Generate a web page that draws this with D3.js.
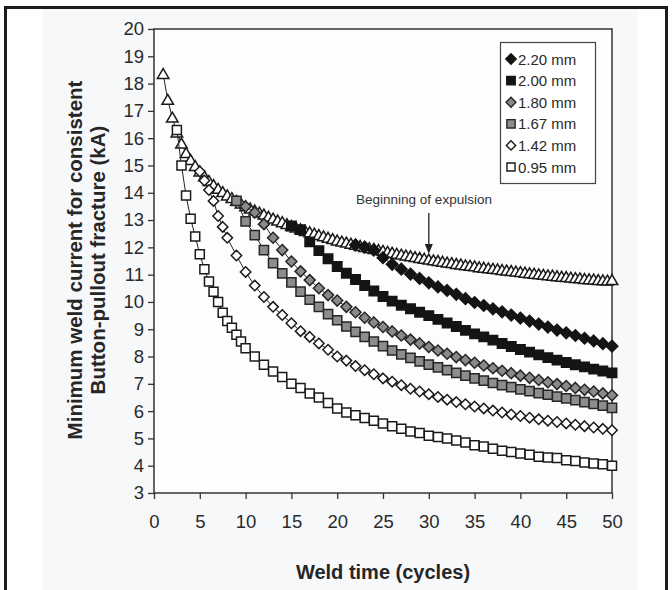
<!DOCTYPE html>
<html>
<head>
<meta charset="utf-8">
<script src="https://cdn.jsdelivr.net/npm/d3@7"></script>
<style>
  body { margin: 0; background: #ffffff; }
  svg { display: block; font-family: "Liberation Sans", Arial, sans-serif; }
</style>
</head>
<body>
<div id="chart"></div>
<script>
// tick labels
var xTicks = [0, 5, 10, 15, 20, 25, 30, 35, 40, 45, 50];
var yTicks = [3, 4, 5, 6, 7, 8, 9, 10, 11, 12, 13, 14, 15, 16, 17, 18, 19, 20];

// legend categories
var seriesNames = ["2.20 mm", "2.00 mm", "1.80 mm", "1.67 mm", "1.42 mm", "0.95 mm"];

// expulsion boundary (open triangles)
var cycExp = [1, 1.5, 2, 2.5, 3, 3.5, 4, 4.5, 5, 5.5, 6, 6.5, 7, 7.5, 8, 8.5, 9, 9.5, 10, 10.5,
    11, 11.5, 12, 12.5, 13, 13.5, 14, 14.5, 15, 15.5, 16, 16.5, 17, 17.5, 18, 18.5, 19, 19.5, 20, 20.5,
    21, 21.5, 22, 22.5, 23, 23.5, 24, 24.5, 25, 25.5, 26, 26.5, 27, 27.5, 28, 28.5, 29, 29.5, 30, 30.5,
    31, 31.5, 32, 32.5, 33, 33.5, 34, 34.5, 35, 35.5, 36, 36.5, 37, 37.5, 38, 38.5, 39, 39.5, 40, 40.5,
    41, 41.5, 42, 42.5, 43, 43.5, 44, 44.5, 45, 45.5, 46, 46.5, 47, 47.5, 48, 48.5, 49, 49.5, 50];
var curExp = [18.35, 17.4, 16.75, 16.2, 15.8, 15.45, 15.2, 14.98, 14.78, 14.6, 14.43, 14.28, 14.14, 14.02, 13.9, 13.8, 13.7, 13.6, 13.5, 13.42,
    13.35, 13.27, 13.2, 13.12, 13.05, 12.98, 12.92, 12.85, 12.78, 12.72, 12.66, 12.6, 12.55, 12.5, 12.45, 12.4, 12.35, 12.3, 12.25, 12.21,
    12.17, 12.13, 12.09, 12.05, 12.01, 11.97, 11.94, 11.9, 11.87, 11.83, 11.8, 11.76, 11.73, 11.7, 11.67, 11.64, 11.61, 11.58, 11.55, 11.52,
    11.5, 11.47, 11.44, 11.42, 11.39, 11.37, 11.34, 11.32, 11.3, 11.27, 11.25, 11.23, 11.21, 11.19, 11.17, 11.15, 11.13, 11.11, 11.09, 11.07,
    11.05, 11.03, 11.01, 10.99, 10.97, 10.96, 10.94, 10.92, 10.91, 10.89, 10.87, 10.86, 10.84, 10.83, 10.82, 10.8, 10.79, 10.78, 10.8];

var cyc220 = [22, 23, 24, 25, 26, 27, 28, 29, 30, 31, 32, 33, 34, 35, 36, 37, 38, 39, 40, 41, 42, 43, 44, 45, 46, 47, 48, 49, 50];
var cur220 = [12.09, 12.01, 11.9, 11.62, 11.38, 11.2, 11.02, 10.86, 10.7, 10.55, 10.42, 10.28, 10.12, 9.98, 9.87, 9.75, 9.64, 9.52, 9.41,
    9.3, 9.19, 9.08, 8.97, 8.87, 8.77, 8.67, 8.57, 8.47, 8.38];

var cyc200 = [15, 16, 17, 18, 19, 20, 21, 22, 23, 24, 25, 26, 27, 28, 29, 30, 31, 32, 33, 34, 35, 36, 37, 38, 39, 40,
    41, 42, 43, 44, 45, 46, 47, 48, 49, 50];
var cur200 = [12.78, 12.65, 12.2, 11.88, 11.58, 11.3, 11.05, 10.82, 10.6, 10.4, 10.2, 10.03, 9.88, 9.75, 9.62, 9.5, 9.36, 9.23, 9.1, 8.96,
    8.83, 8.72, 8.6, 8.48, 8.37, 8.26, 8.16, 8.06, 7.96, 7.87, 7.78, 7.7, 7.62, 7.54, 7.47, 7.4];

var cyc180 = [10, 11, 12, 13, 14, 15, 16, 17, 18, 19, 20, 21, 22, 23, 24, 25, 26, 27, 28, 29, 30, 31, 32, 33, 34, 35, 36, 37, 38, 39, 40,
    41, 42, 43, 44, 45, 46, 47, 48, 49, 50];
var cur180 = [13.5, 13.28, 12.85, 12.35, 11.9, 11.48, 11.12, 10.8, 10.5, 10.25, 10.05, 9.82, 9.62, 9.42, 9.25, 9.08, 8.92, 8.77, 8.62, 8.48,
    8.35, 8.22, 8.1, 7.98, 7.87, 7.77, 7.67, 7.57, 7.48, 7.39, 7.3, 7.22, 7.14, 7.06, 6.99, 6.92, 6.85, 6.78, 6.72, 6.65, 6.58];

var cyc167 = [9, 10, 11, 12, 13, 14, 15, 16, 17, 18, 19, 20, 21, 22, 23, 24, 25, 26, 27, 28, 29, 30, 31, 32, 33, 34, 35, 36, 37, 38, 39, 40,
    41, 42, 43, 44, 45, 46, 47, 48, 49, 50];
var cur167 = [13.7, 12.95, 12.45, 11.9, 11.42, 11.05, 10.72, 10.38, 10.08, 9.82, 9.55, 9.33, 9.1, 8.9, 8.72, 8.55, 8.38, 8.22, 8.08, 7.95,
    7.82, 7.7, 7.6, 7.5, 7.4, 7.3, 7.2, 7.12, 7.03, 6.95, 6.88, 6.8, 6.73, 6.66, 6.6, 6.53, 6.47, 6.4, 6.33, 6.26, 6.2, 6.12];

var cyc142 = [5, 5.5, 6, 6.5, 7, 7.5, 8, 9, 10, 11, 12, 13, 14, 15, 16, 17, 18, 19, 20, 21, 22, 23, 24, 25, 26, 27, 28, 29, 30,
    31, 32, 33, 34, 35, 36, 37, 38, 39, 40, 41, 42, 43, 44, 45, 46, 47, 48, 49, 50];
var cur142 = [14.78, 14.45, 14.1, 13.7, 13.15, 12.75, 12.35, 11.7, 11.1, 10.6, 10.18, 9.82, 9.52, 9.22, 8.93, 8.72, 8.48, 8.25, 8.0,
    7.85, 7.65, 7.5, 7.35, 7.2, 7.08, 6.95, 6.82, 6.72, 6.62, 6.52, 6.42, 6.33, 6.25, 6.17, 6.1, 6.02, 5.95, 5.88, 5.82, 5.76, 5.7,
    5.65, 5.6, 5.55, 5.5, 5.45, 5.4, 5.35, 5.3];

var cyc095 = [2.5, 3, 3.5, 4, 4.5, 5, 5.5, 6, 6.5, 7, 7.5, 8, 8.5, 9, 9.5, 10, 11, 12, 13, 14, 15, 16, 17, 18, 19, 20,
    21, 22, 23, 24, 25, 26, 27, 28, 29, 30, 31, 32, 33, 34, 35, 36, 37, 38, 39, 40, 41, 42, 43, 44, 45, 46, 47, 48, 49, 50];
var cur095 = [16.3, 15.0, 13.9, 13.05, 12.4, 11.75, 11.2, 10.75, 10.37, 10.0, 9.6, 9.3, 9.05, 8.8, 8.55, 8.3, 8.0, 7.7, 7.45, 7.25,
    7.0, 6.85, 6.65, 6.5, 6.3, 6.1, 5.95, 5.85, 5.75, 5.65, 5.55, 5.45, 5.35, 5.25, 5.2, 5.1, 5.05, 5.0, 4.92, 4.85, 4.75, 4.7,
    4.62, 4.55, 4.5, 4.45, 4.4, 4.33, 4.3, 4.28, 4.2, 4.17, 4.12, 4.08, 4.05, 4.0];

// marker styles per series (same order as seriesNames)
var markerStyle = [
    {shape: "diamond", fill: "#141414", stroke: "#141414", r: 5.8},
    {shape: "square", fill: "#141414", stroke: "#141414", r: 4.7},
    {shape: "diamond", fill: "#8a8a8a", stroke: "#262626", r: 5.5},
    {shape: "square", fill: "#8d8d8d", stroke: "#262626", r: 4.6},
    {shape: "diamond", fill: "#ffffff", stroke: "#1a1a1a", r: 5.2},
    {shape: "square", fill: "#ffffff", stroke: "#1a1a1a", r: 4.5}
];

var series = [
    {cyc: cyc220, cur: cur220},
    {cyc: cyc200, cur: cur200},
    {cyc: cyc180, cur: cur180},
    {cyc: cyc167, cur: cur167},
    {cyc: cyc142, cur: cur142},
    {cyc: cyc095, cur: cur095}
];

var W = 672, H = 590;
var margin = {top: 29, right: 60, bottom: 97, left: 154};
var width = W - margin.left - margin.right;
var height = H - margin.top - margin.bottom;

var svg = d3.select("#chart").append("svg")
    .attr("width", W)
    .attr("height", H);

// faint page panel and outer frame
svg.append("rect")
    .attr("x", 43).attr("y", 9)
    .attr("width", 595).attr("height", H)
    .attr("fill", "#f7f8fa");
svg.append("path")
    .attr("d", "M5.5," + H + " V7.5 H666.5 V" + H)
    .attr("fill", "none")
    .attr("stroke", "#1c1c1c")
    .attr("stroke-width", 3);

var x = d3.scaleLinear().domain([0, 50]).range([margin.left, margin.left + width]);
var y = d3.scaleLinear().domain([3, 20]).range([margin.top + height, margin.top]);

svg.append("rect")
    .attr("x", x(0)).attr("y", y(20))
    .attr("width", x(50) - x(0)).attr("height", y(3) - y(20))
    .attr("fill", "#fdfdfe");

// axes
var xAxis = svg.append("g")
    .attr("transform", "translate(0," + y(3) + ")")
    .call(d3.axisBottom(x).tickValues(xTicks).tickSize(6).tickPadding(16).tickFormat(d3.format("d")));
var yAxis = svg.append("g")
    .attr("transform", "translate(" + x(0) + ",0)")
    .call(d3.axisLeft(y).tickValues(yTicks).tickSize(6).tickPadding(4).tickFormat(d3.format("d")));

[xAxis, yAxis].forEach(function(a) {
    a.select(".domain").remove();
    a.selectAll("line").attr("stroke", "#333").attr("stroke-width", 1.3);
    a.selectAll("text")
        .attr("fill", "#2a2a2a")
        .style("font-size", "18.5px");
});

// plot frame
svg.append("rect")
    .attr("x", x(0)).attr("y", y(20))
    .attr("width", x(50) - x(0)).attr("height", y(3) - y(20))
    .attr("fill", "none")
    .attr("stroke", "#333")
    .attr("stroke-width", 1.5);

// axis titles
svg.append("text")
    .attr("x", (x(0) + x(50)) / 2)
    .attr("y", 579)
    .attr("text-anchor", "middle")
    .style("font-size", "20px")
    .style("font-weight", "bold")
    .attr("fill", "#262626")
    .text("Weld time (cycles)");

var yTitle = ["Minimum weld current for consistent", "Button-pullout fracture (kA)"];
yTitle.forEach(function(t, i) {
    svg.append("text")
        .attr("transform", "translate(" + (74 + i * 23) + "," + 260 + ") rotate(-90)")
        .attr("text-anchor", "middle")
        .attr("dominant-baseline", "central")
        .style("font-size", "20.5px")
        .style("font-weight", "bold")
        .attr("fill", "#262626")
        .text(t);
});

function markerPath(shape, r) {
    if (shape === "diamond") {
        return "M0," + (-r) + "L" + r + ",0L0," + r + "L" + (-r) + ",0Z";
    }
    if (shape === "triangle") {
        return "M0," + (-r) + "L" + (r * 1.05) + "," + (r * 0.8) + "L" + (-r * 1.05) + "," + (r * 0.8) + "Z";
    }
    return "M" + (-r) + "," + (-r) + "H" + r + "V" + r + "H" + (-r) + "Z";
}

var line = d3.line()
    .x(function(d) { return x(d[0]); })
    .y(function(d) { return y(d[1]); });

function drawSeries(cyc, cur, style) {
    var pts = cyc.map(function(c, i) { return [c, cur[i]]; });
    var g = svg.append("g");
    g.append("path")
        .attr("d", line(pts))
        .attr("fill", "none")
        .attr("stroke", "#222")
        .attr("stroke-width", 1);
    g.selectAll("path.mk")
        .data(pts)
        .enter()
        .append("path")
        .attr("class", "mk")
        .attr("transform", function(d) { return "translate(" + x(d[0]) + "," + y(d[1]) + ")"; })
        .attr("d", markerPath(style.shape, style.r))
        .attr("fill", style.fill)
        .attr("stroke", style.stroke)
        .attr("stroke-width", 1.5);
}

drawSeries(cycExp, curExp, {shape: "triangle", fill: "#ffffff", stroke: "#1a1a1a", r: 5.5});
for (var s = series.length - 1; s >= 0; s--) {
    drawSeries(series[s].cyc, series[s].cur, markerStyle[s]);
}

// annotation
svg.append("text")
    .attr("x", 424)
    .attr("y", 204)
    .attr("text-anchor", "middle")
    .style("font-size", "13.5px")
    .attr("fill", "#333")
    .text("Beginning of expulsion");
svg.append("line")
    .attr("x1", x(30)).attr("x2", x(30))
    .attr("y1", 213).attr("y2", 246)
    .attr("stroke", "#222")
    .attr("stroke-width", 1.3);
svg.append("path")
    .attr("d", "M" + (x(30) - 4) + ",244 L" + (x(30) + 4) + ",244 L" + x(30) + ",254 Z")
    .attr("fill", "#222");

// legend
var legend = svg.append("g");
legend.append("rect")
    .attr("x", 500.5).attr("y", 42.5)
    .attr("width", 95).attr("height", 141)
    .attr("fill", "#ffffff")
    .attr("stroke", "#444")
    .attr("stroke-width", 1.2);

var rows = legend.selectAll("g.row")
    .data(seriesNames)
    .enter()
    .append("g")
    .attr("class", "row")
    .attr("transform", function(d, i) { return "translate(0," + (59 + i * 21.6) + ")"; });
rows.append("path")
    .attr("transform", "translate(511,0)")
    .attr("d", function(d, i) { return markerPath(markerStyle[i].shape, markerStyle[i].r * 0.9); })
    .attr("fill", function(d, i) { return markerStyle[i].fill; })
    .attr("stroke", function(d, i) { return markerStyle[i].stroke; })
    .attr("stroke-width", 1.4);
rows.append("text")
    .attr("x", 518)
    .attr("y", 5.5)
    .style("font-size", "15px")
    .attr("fill", "#2a2a2a")
    .text(function(d) { return d; });
</script>
</body>
</html>
